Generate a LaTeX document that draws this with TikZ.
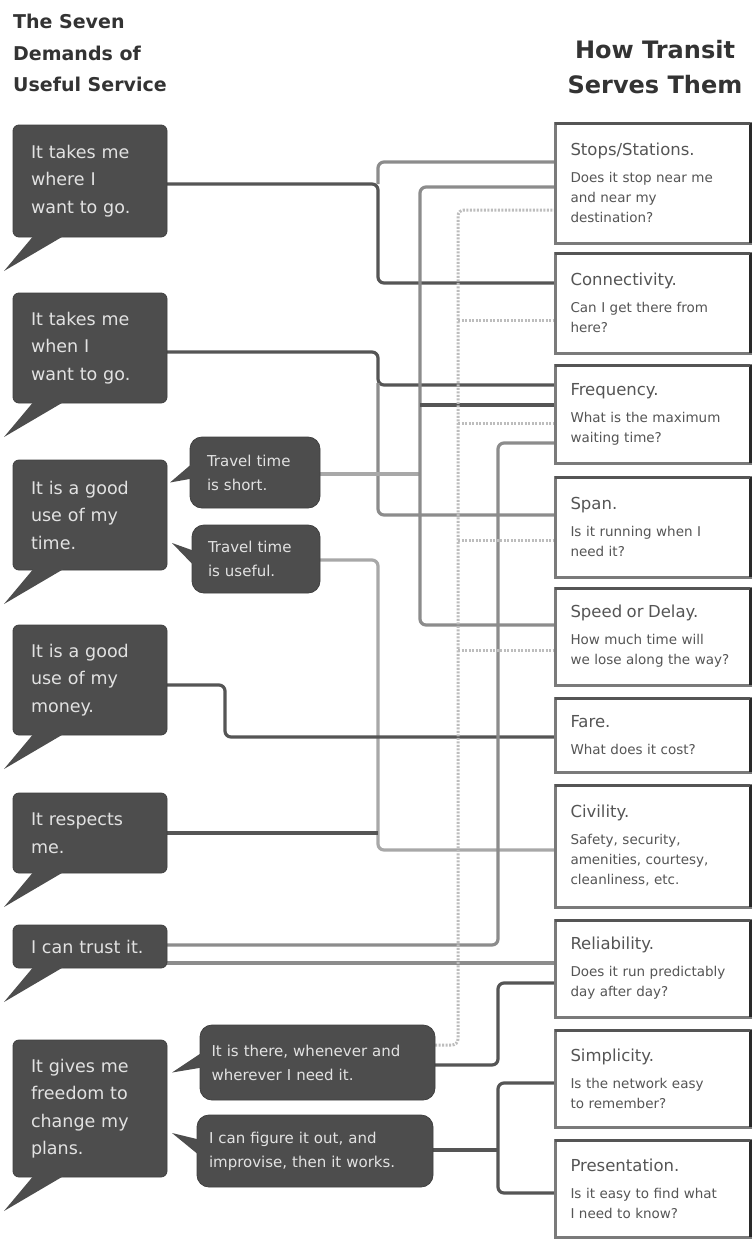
\documentclass[tikz,border=0pt]{standalone}
\usepackage{fontspec}
\setmainfont{DejaVu Sans}
\usetikzlibrary{calc,backgrounds}
\definecolor{bub}{HTML}{4D4D4D}
\definecolor{bubedge}{HTML}{3F3F3F}
\definecolor{bubtxt}{HTML}{E2E2E2}
\definecolor{dk}{HTML}{555555}
\definecolor{md}{HTML}{8C8C8C}
\definecolor{lt}{HTML}{A8A8A8}
\definecolor{dt}{HTML}{BDBDBD}
\definecolor{boxb}{HTML}{7A7A7A}
\definecolor{boxr}{HTML}{2A2A2A}
\definecolor{ttl}{HTML}{333333}
\definecolor{boxtxt}{HTML}{555555}
\newcommand\boxtitlefont{\fontsize{16.5}{20}\selectfont}
\begin{document}
\begin{tikzpicture}[x=1pt,y=-1pt,
  bubble/.style={fill=bub, draw=bubedge, line width=0.8pt, rounded corners=6pt,
    text=bubtxt, align=left, inner sep=0pt, outer sep=0pt, minimum width=154pt,
    text width=118pt, font=\fontsize{17.5}{27.5}\selectfont},
  subbub/.style={fill=bub, draw=bubedge, line width=0.8pt, rounded corners=12pt,
    text=bubtxt, align=left, inner sep=0pt, outer sep=0pt,
    font=\fontsize{15}{24}\selectfont},
  rbox/.style={fill=white, draw=boxb, line width=3pt, inner sep=0pt, outer sep=0pt,
    minimum width=195pt, text width=164pt, align=left, text=boxtxt,
    font=\fontsize{13.5}{20}\selectfont},
  conn/.style={line width=3.2pt, rounded corners=6pt},
  dotc/.style={line width=3pt, color=dt, dash pattern=on 2pt off 1.5pt, rounded corners=6pt}
]
\useasboundingbox (0,0) rectangle (753,1240);

% titles
\node[anchor=north west, align=left, inner sep=0pt, text=ttl,
  font=\bfseries\fontsize{19}{31.5}\selectfont] (ltitle) at (13,14)
  {The Seven\\Demands of\\Useful Service};
\node[anchor=north, align=center, inner sep=0pt, text=ttl,
  font=\bfseries\fontsize{24}{35}\selectfont] (rtitle) at (655,40)
  {How Transit\\Serves Them};

% left bubbles
\node[bubble, minimum height=112pt] (b1) at (90,181) {It takes me\\where I\\want to go.};
\node[bubble, minimum height=110pt] (b2) at (90,348) {It takes me\\when I\\want to go.};
\node[bubble, minimum height=110pt] (b3) at (90,515) {It is a good\\use of my\\time.};
\node[bubble, minimum height=110pt] (b4) at (90,680) {It is a good\\use of my\\money.};
\node[bubble, minimum height=80pt] (b5) at (90,833) {It respects\\me.};
\node[bubble, minimum height=43pt] (b6) at (90,946.5) {I can trust it.};
\node[bubble, minimum height=137pt] (b7) at (90,1108.5) {It gives me\\freedom to\\change my\\plans.};

% sub bubbles
\node[subbub, minimum width=130pt, minimum height=71pt, text width=96pt] (t1) at (255,472.5) {Travel time\\is short.};
\node[subbub, minimum width=128pt, minimum height=68pt, text width=96pt] (t2) at (256,559) {Travel time\\is useful.};
\node[subbub, minimum width=235pt, minimum height=75pt, text width=212pt] (u1) at (317.5,1062.5) {It is there, whenever and\\wherever I need it.};
\node[subbub, minimum width=236pt, minimum height=72pt, text width=212pt] (u2) at (315,1151) {I can figure it out, and\\improvise, then it works.};

% tails
\foreach \b in {b1,b2,b3,b4,b5,b6,b7}
  \fill[bub] ($(\b.south west)+(22,-3)$) -- ($(\b.south west)+(-9,34)$) -- ($(\b.south west)+(54,-3)$) -- cycle;
\fill[bub] ($(t1.west)+(8,-14)$) -- ($(t1.west)+(-20,10)$) -- ($(t1.west)+(8,5)$) -- cycle;
\fill[bub] ($(t2.west)+(8,-6)$) -- ($(t2.west)+(-20,-16)$) -- ($(t2.west)+(8,13)$) -- cycle;
\fill[bub] ($(u1.west)+(8,-14)$) -- ($(u1.west)+(-28,10)$) -- ($(u1.west)+(8,4)$) -- cycle;
\fill[bub] ($(u2.west)+(8,-10)$) -- ($(u2.west)+(-25,-18)$) -- ($(u2.west)+(8,9)$) -- cycle;

% right boxes
\node[rbox, minimum height=120pt] (s1) at (652.5,183) {{\boxtitlefont Stops/Stations.}\\[7pt]Does it stop near me\\and near my\\destination?};
\node[rbox, minimum height=100pt] (s2) at (652.5,303) {{\boxtitlefont Connectivity.}\\[7pt]Can I get there from\\here?};
\node[rbox, minimum height=98pt] (s3) at (652.5,414) {{\boxtitlefont Frequency.}\\[7pt]What is the maximum\\waiting time?};
\node[rbox, minimum height=100pt] (s4) at (652.5,527) {{\boxtitlefont Span.}\\[7pt]Is it running when I\\need it?};
\node[rbox, minimum height=97pt] (s5) at (652.5,636.5) {{\boxtitlefont Speed or Delay.}\\[7pt]How much time will\\we lose along the way?};
\node[rbox, minimum height=74pt] (s6) at (652.5,735) {{\boxtitlefont Fare.}\\[7pt]What does it cost?};
\node[rbox, minimum height=122pt] (s7) at (652.5,846) {{\boxtitlefont Civility.}\\[7pt]Safety, security,\\amenities, courtesy,\\cleanliness, etc.};
\node[rbox, minimum height=97pt] (s8) at (652.5,968.5) {{\boxtitlefont Reliability.}\\[7pt]Does it run predictably\\day after day?};
\node[rbox, minimum height=97pt] (s9) at (652.5,1078.5) {{\boxtitlefont Simplicity.}\\[7pt]Is the network easy\\to remember?};
\node[rbox, minimum height=97pt] (s10) at (652.5,1188.5) {{\boxtitlefont Presentation.}\\[7pt]Is it easy to find what\\I need to know?};
\foreach \n in {s1,s2,s3,s4,s5,s6,s7,s8,s9,s10}{
  \draw[line width=3pt, boxr] (\n.north east) -- (\n.south east);
  \draw[line width=3pt, dk] (\n.north west) -- (\n.north east);
}

% connectors
\begin{pgfonlayer}{background}
\fill[white] (0,0) rectangle (753,1240);
% where I want to go
\draw[conn,dk] (b1.east |- 0,184) -- (378,184) |- (s2.west |- 0,283);
\draw[conn,md] (378,184) |- (s1.west |- 0,162);
% when I want to go
\draw[conn,dk] (b2.east |- 0,352) -- (378,352) |- (s3.west |- 0,385);
\draw[conn,md] (378,383) |- (s4.west |- 0,515);
% travel time is short
\draw[conn,lt] (t1.east |- 0,474) -- (420,474);
\draw[conn,md] (s1.west |- 0,187) -| (420,474) |- (s5.west |- 0,625);
\draw[conn,dk] (420,405) -- (s3.west |- 0,405);
% travel time is useful / respects me
\draw[conn,lt] (t2.east |- 0,560) -- (378,560) |- (s7.west |- 0,850);
\draw[conn,dk] (b5.east |- 0,833) -- (378,833);
% money
\draw[conn,dk] (b4.east |- 0,685) -- (225,685) |- (s6.west |- 0,737);
% trust
\draw[conn,md] (b6.east |- 0,945) -| (498,443) -- (s3.west |- 0,443);
\draw[conn,md] (b6.east |- 0,963) -- (s8.west |- 0,963);
% there whenever and wherever
\draw[dotc] (u1.east |- 0,1045) -| (458,210) -- (s1.west |- 0,210);
\foreach \y/\s in {320/s2, 423/s3, 540/s4, 650/s5}
  \draw[dotc] (458,\y) -- (\s.west |- 0,\y);
\draw[conn,dk] (u1.east |- 0,1065) -| (498,983) -- (s8.west |- 0,983);
% figure it out
\draw[conn,dk] (u2.east |- 0,1150) -- (498,1150);
\draw[conn,dk] (s9.west |- 0,1083) -| (498,1150) |- (s10.west |- 0,1193);
\end{pgfonlayer}
\end{tikzpicture}
\end{document}
